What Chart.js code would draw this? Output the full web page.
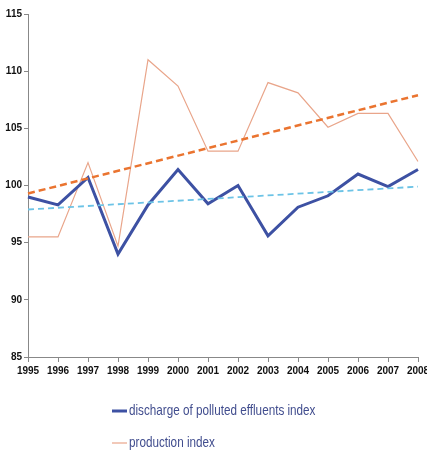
<!DOCTYPE html>
<html>
<head>
<meta charset="utf-8">
<script src="https://cdn.jsdelivr.net/npm/chart.js@4"></script>
<style>
  html, body { margin: 0; padding: 0; background: #ffffff; }
  #wrap { width: 427px; height: 456px; }
</style>
</head>
<body>
<div id="wrap"><canvas id="chart" width="427" height="456"></canvas></div>
<script>
const years = ["1995", "1996", "1997", "1998", "1999", "2000", "2001", "2002", "2003", "2004", "2005", "2006", "2007", "2008"]
const dischargeIndex = [99.0, 98.3, 100.7, 94.0, 98.3, 101.4, 98.4, 100.0, 95.6, 98.1, 99.1, 101.0, 99.9, 101.4]
const productionIndex = [95.5, 95.5, 102.0, 94.7, 111.0, 108.7, 103.0, 103.0, 109.0, 108.1, 105.1, 106.3, 106.3, 102.1]
const productionTrend = [99.3, null, null, null, null, null, null, null, null, null, null, null, null, 107.9]
const dischargeTrend = [97.9, null, null, null, null, null, null, null, null, null, null, null, null, 99.9]
const yTicks = [85, 90, 95, 100, 105, 110, 115]

const FONT = "'Liberation Sans Narrow', 'Arial Narrow', 'Liberation Sans', sans-serif"

// legend drawn by hand: two stacked rows, left aligned under the plot,
// text squeezed sideways since no narrow font is installed
const stackedLegend = {
  id: "stackedLegend",
  afterDraw(chart) {
    const { ctx } = chart
    const items = chart.data.datasets.filter((ds) => ds.legendRow !== undefined)
      .sort((a, b) => a.legendRow - b.legendRow)
    ctx.save()
    ctx.font = `15px ${FONT}`
    ctx.textBaseline = "middle"
    items.forEach((ds, i) => {
      const y = 411 + i * 32
      ctx.strokeStyle = ds.borderColor
      ctx.lineWidth = ds.borderWidth
      ctx.beginPath()
      ctx.moveTo(112, y)
      ctx.lineTo(127, y)
      ctx.stroke()
      ctx.save()
      ctx.translate(129, y)
      ctx.scale(0.78, 1)
      ctx.fillStyle = "#414d8e"
      ctx.fillText(ds.label, 0, 0)
      ctx.restore()
    })
    ctx.restore()
  }
}

new Chart(document.getElementById("chart"), {
  type: "line",
  data: {
    labels: years,
    datasets: [
      { label: "production index trend", data: productionTrend, borderColor: "#ea7430", borderWidth: 2.5, borderDash: [7, 4], spanGaps: true, pointRadius: 0 },
      { label: "discharge trend", data: dischargeTrend, borderColor: "#6cc3e6", borderWidth: 1.8, borderDash: [6, 4], spanGaps: true, pointRadius: 0 },
      { label: "production index", data: productionIndex, borderColor: "#e9a58a", borderWidth: 1.2, pointRadius: 0, legendRow: 1, order: 1 },
      { label: "discharge of polluted effluents index", data: dischargeIndex, borderColor: "#3d51a3", borderWidth: 3, pointRadius: 0, legendRow: 0, order: 0 }
    ]
  },
  options: {
    responsive: false,
    animation: false,
    layout: { padding: { top: 14, bottom: 76, left: 0, right: 0 } },
    plugins: { legend: { display: false }, tooltip: { enabled: false } },
    scales: {
      x: {
        offset: false,
        afterFit: (scale) => { scale.paddingRight = 9 },
        grid: { drawOnChartArea: false, drawTicks: true, tickLength: 5, color: "#888888" },
        border: { color: "#888888", width: 1 },
        ticks: { color: "#111111", font: { family: FONT, size: 10, weight: "bold" }, maxRotation: 0, autoSkip: false, padding: 3 }
      },
      y: {
        min: 85,
        max: 115,
        afterBuildTicks: (scale) => { scale.ticks = yTicks.map((value) => ({ value })) },
        afterFit: (scale) => { scale.width = 28 },
        grid: { drawOnChartArea: false, drawTicks: true, tickLength: 4, color: "#888888" },
        border: { color: "#888888", width: 1 },
        ticks: { color: "#111111", font: { family: FONT, size: 10, weight: "bold" }, padding: 2 }
      }
    }
  },
  plugins: [stackedLegend]
})
</script>
</body>
</html>
